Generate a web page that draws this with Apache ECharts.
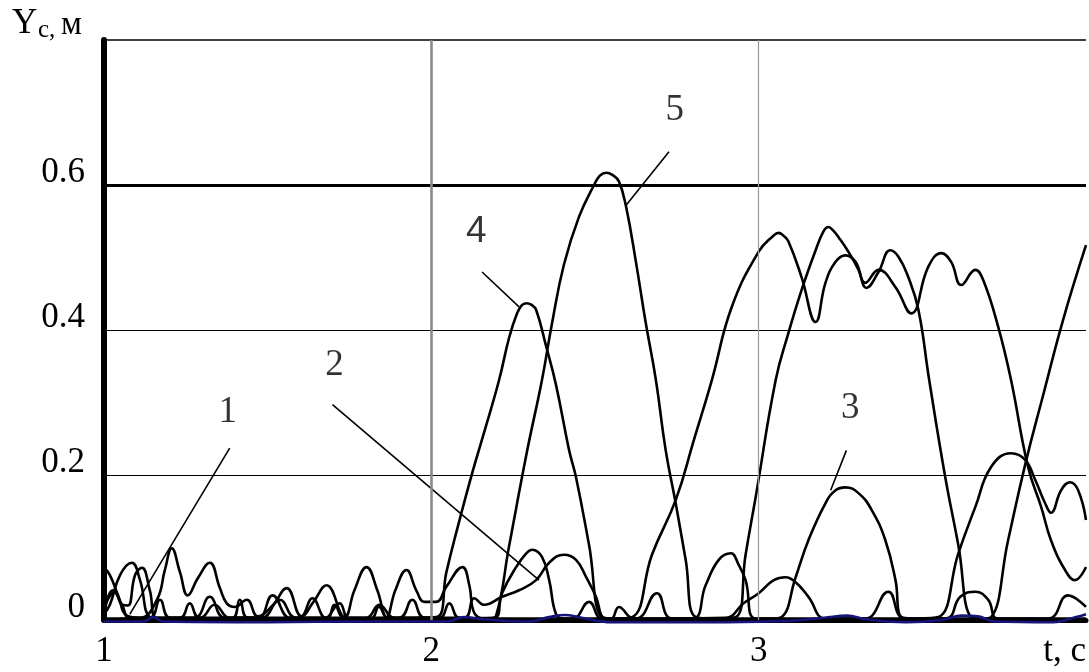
<!DOCTYPE html>
<html><head><meta charset="utf-8">
<script src="https://cdn.jsdelivr.net/npm/echarts@6/dist/echarts.min.js"></script>
<style>html,body{margin:0;padding:0;background:#fff}#c{width:1089px;height:672px}</style>
</head><body><div id="c"></div>
<script>
// ---- data: [t (s), Yc (m)] ----
const s1 = [[1.000,0.072],[1.018,0.062],[1.043,0.034],[1.070,0.006],[1.110,0.003],[1.162,0.028],[1.186,0.069],[1.207,0.099],[1.232,0.066],[1.256,0.034],[1.287,0.058],[1.323,0.079],[1.354,0.044],[1.375,0.023],[1.399,0.018],[1.436,0.028],[1.470,0.005],[1.515,0.020],[1.558,0.044],[1.604,0.005],[1.640,0.025],[1.680,0.048],[1.735,0.004],[1.765,0.041],[1.802,0.073],[1.835,0.041],[1.863,0.004],[1.890,0.041],[1.924,0.069],[1.954,0.041],[1.979,0.025],[2.015,0.025],[2.046,0.046],[2.095,0.073],[2.116,0.048],[2.131,0.010],[2.162,0.002],[2.430,0.002],[2.482,0.025],[2.521,0.002],[2.625,0.002],[2.689,0.037],[2.735,0.002],[2.899,0.003],[2.954,0.023],[3.000,0.037],[3.046,0.055],[3.082,0.059],[3.113,0.052],[3.152,0.032],[3.204,0.002],[3.326,0.002],[3.396,0.039],[3.448,0.002],[3.884,0.002],[3.945,0.034],[4.000,0.018]];
const s2 = [[1.000,0.008],[1.018,0.021],[1.049,0.062],[1.085,0.079],[1.110,0.055],[1.140,0.004],[1.171,0.002],[1.277,0.003],[1.323,0.032],[1.369,0.003],[1.470,0.003],[1.515,0.034],[1.567,0.003],[1.598,0.003],[1.637,0.030],[1.677,0.003],[1.720,0.023],[1.750,0.002],[1.902,0.003],[1.942,0.028],[1.979,0.003],[2.101,0.003],[2.131,0.030],[2.162,0.021],[2.216,0.032],[2.268,0.041],[2.320,0.055],[2.360,0.079],[2.405,0.090],[2.442,0.083],[2.473,0.059],[2.503,0.032],[2.527,0.003],[2.550,0.002],[2.573,0.018],[2.619,0.002],[2.796,0.002],[2.838,0.048],[2.878,0.083],[2.915,0.092],[2.939,0.076],[2.960,0.055],[2.991,0.002],[3.570,0.002],[3.616,0.032],[3.662,0.039],[3.701,0.028],[3.732,0.002],[4.000,0.002]];
const s3 = [[1.000,0.018],[1.034,0.039],[1.055,0.021],[1.073,0.020],[1.095,0.062],[1.116,0.072],[1.140,0.041],[1.162,0.003],[1.232,0.003],[1.390,0.002],[1.415,0.028],[1.440,0.003],[1.580,0.002],[1.815,0.002],[1.840,0.018],[1.870,0.002],[2.192,0.003],[2.216,0.037],[2.259,0.073],[2.290,0.092],[2.308,0.097],[2.338,0.087],[2.360,0.055],[2.381,0.008],[2.405,0.002],[3.040,0.002],[3.070,0.004],[3.113,0.059],[3.152,0.110],[3.204,0.161],[3.235,0.179],[3.265,0.183],[3.305,0.175],[3.345,0.152],[3.387,0.110],[3.418,0.055],[3.436,0.004],[3.488,0.002],[3.549,0.004],[3.610,0.092],[3.662,0.156],[3.710,0.211],[3.771,0.230],[3.814,0.221],[3.845,0.193],[3.875,0.161],[3.893,0.148],[3.924,0.179],[3.951,0.190],[3.976,0.179],[4.000,0.138]];
const s4 = [[1.000,0.002],[1.140,0.003],[1.171,0.028],[1.201,0.003],[1.293,0.003],[1.338,0.021],[1.384,0.003],[1.482,0.003],[1.537,0.028],[1.588,0.003],[1.800,0.003],[1.841,0.021],[1.887,0.003],[2.015,0.004],[2.046,0.066],[2.070,0.110],[2.125,0.203],[2.168,0.269],[2.207,0.331],[2.238,0.390],[2.262,0.423],[2.276,0.434],[2.290,0.437],[2.305,0.435],[2.320,0.428],[2.351,0.377],[2.381,0.324],[2.421,0.234],[2.442,0.197],[2.482,0.103],[2.521,0.004],[2.558,0.002],[2.613,0.004],[2.674,0.090],[2.747,0.166],[2.802,0.248],[2.857,0.331],[2.918,0.432],[3.000,0.508],[3.045,0.530],[3.061,0.534],[3.076,0.530],[3.091,0.522],[3.131,0.473],[3.174,0.411],[3.204,0.465],[3.235,0.494],[3.265,0.503],[3.296,0.494],[3.326,0.465],[3.366,0.483],[3.418,0.459],[3.466,0.423],[3.518,0.487],[3.558,0.506],[3.588,0.494],[3.619,0.462],[3.662,0.483],[3.686,0.469],[3.732,0.404],[3.771,0.331],[3.823,0.211],[3.863,0.156],[3.893,0.110],[3.936,0.069],[3.966,0.055],[4.000,0.073]];
const s5 = [[1.000,0.008],[1.027,0.041],[1.055,0.021],[1.079,0.003],[1.232,0.003],[1.262,0.023],[1.293,0.003],[1.680,0.003],[1.704,0.021],[1.735,0.003],[2.024,0.003],[2.055,0.023],[2.085,0.003],[2.177,0.002],[2.198,0.006],[2.238,0.103],[2.293,0.234],[2.338,0.331],[2.369,0.410],[2.405,0.490],[2.451,0.556],[2.497,0.600],[2.515,0.613],[2.534,0.617],[2.553,0.614],[2.573,0.605],[2.595,0.570],[2.625,0.494],[2.655,0.410],[2.686,0.331],[2.716,0.234],[2.747,0.160],[2.777,0.083],[2.808,0.004],[2.863,0.002],[2.930,0.004],[2.960,0.090],[2.991,0.170],[3.052,0.331],[3.091,0.396],[3.131,0.455],[3.174,0.510],[3.198,0.536],[3.213,0.542],[3.228,0.537],[3.244,0.528],[3.274,0.508],[3.305,0.483],[3.329,0.458],[3.366,0.480],[3.402,0.510],[3.427,0.501],[3.457,0.473],[3.488,0.428],[3.521,0.331],[3.570,0.197],[3.610,0.103],[3.649,0.004],[3.680,0.002],[3.710,0.004],[3.762,0.110],[3.814,0.214],[3.869,0.310],[3.930,0.414],[4.000,0.517]];
const sBlue = [[1.0,-0.002],[1.12,-0.002],[1.15,0.004],[1.18,-0.002],[1.5,-0.003],[1.8,-0.002],[2.05,-0.002],[2.1,0.004],[2.16,0.001],[2.3,-0.002],[2.36,0.004],[2.41,0.007],[2.47,0.002],[2.55,-0.003],[2.9,-0.003],[3.1,-0.001],[3.2,0.003],[3.27,0.006],[3.33,0.001],[3.45,-0.003],[3.56,0.0],[3.62,0.006],[3.67,0.005],[3.72,-0.002],[3.9,-0.003],[3.97,0.004],[4.0,0.008]];

// curve labels and leader lines
const curveNames = ['1','2','3','4','5'];
const labelPos = [[1.378,0.286],[1.704,0.352],[3.280,0.292],[2.137,0.535],[2.744,0.703]];
const leaders = [[[1.384,0.237],[1.079,0.008]],[[1.698,0.297],[2.329,0.055]],[[3.268,0.234],[3.220,0.179]],[[2.155,0.480],[2.268,0.432]],[[2.726,0.646],[2.595,0.572]]];

// ticks
const xTickLabels = {1:'1',2:'2',3:'3',4:'t, c'};
const yTickLabels = {'0':'0','0.2':'0.2','0.4':'0.4','0.6':'0.6','0.8':''};
const hGrid = [0.2,0.4,0.6,0.8];
const vGrid = [2,3];

const serif = 'Liberation Serif';
const chart = echarts.init(document.getElementById('c'), null, {renderer:'canvas'});

const curveSeries = [s1,s2,s3,s4,s5].map((d,i)=>({
  type:'line', name:curveNames[i], data:d, smooth:0.45, showSymbol:false, symbol:'none',
  lineStyle:{color:'#000', width:2.6}, z:3, silent:true
}));

const leaderSeries = leaders.map(d=>({
  type:'line', data:d, showSymbol:false, symbol:'none', smooth:false,
  lineStyle:{color:'#000', width:1.6}, z:4, silent:true
}));

const gridSeries = {
  type:'line', data:[], silent:true, z:1,
  markLine:{
    silent:true, symbol:['none','none'], label:{show:false}, animation:false,
    data:[
      {yAxis:hGrid[0], lineStyle:{color:'#000', width:1, type:'solid'}},
      {yAxis:hGrid[1], lineStyle:{color:'#000', width:1.2, type:'solid'}},
      {yAxis:hGrid[2], lineStyle:{color:'#000', width:3, type:'solid'}},
      {yAxis:hGrid[3], lineStyle:{color:'#000', width:1.6, type:'solid'}},
      {xAxis:vGrid[0], lineStyle:{color:'#8a8a8a', width:2.6, type:'solid'}},
      {xAxis:vGrid[1], lineStyle:{color:'#9a9a9a', width:1.2, type:'solid'}}
    ]
  }
};

const blueSeries = {
  type:'line', data:sBlue, smooth:0.4, showSymbol:false, symbol:'none', clip:false,
  lineStyle:{color:'#14147a', width:2.6}, z:5, silent:true
};

const labelSeries = {
  type:'scatter', symbolSize:0, z:6, silent:true,
  data: labelPos.map((p,i)=>({value:p, name:curveNames[i],
    label:{color:'#000', fontSize:37, fontFamily: curveNames[i]==='4' ? 'Liberation Sans' : serif}})),
  label:{show:true, position:'inside', formatter:p=>p.name, color:'#000', fontSize:37, fontFamily:serif}
};

chart.setOption({
  animation:false,
  backgroundColor:'#fff',
  grid:{left:104, right:0, top:40, bottom:52, containLabel:false},
  xAxis:{
    type:'value', min:1, max:4, interval:1,
    axisLine:{show:true, onZero:false, lineStyle:{color:'#000', width:5}},
    axisTick:{show:false}, splitLine:{show:false},
    axisLabel:{color:'#000', fontFamily:serif, fontSize:35, lineHeight:35, margin:14,
      alignMaxLabel:'right', formatter:v=>xTickLabels[v] ?? ''}
  },
  yAxis:{
    type:'value', min:0, max:0.8, interval:0.2,
    axisLine:{show:true, onZero:false, lineStyle:{color:'#000', width:6}},
    axisTick:{show:false}, splitLine:{show:false},
    axisLabel:{color:'#000', fontFamily:serif, fontSize:35, lineHeight:24, margin:19, verticalAlign:'bottom',
      formatter:v=>yTickLabels[String(Math.round(v*10)/10)] ?? ''}
  },
  graphic:[
    {type:'text', left:12, top:6, style:{text:'Y', font:'35px "Liberation Serif"', fill:'#000'}},
    {type:'text', left:38, top:18, style:{text:'c,', font:'25px "Liberation Serif"', fill:'#000'}},
    {type:'text', left:61, top:9, style:{text:'м', font:'33px "Liberation Serif"', fill:'#000'}}
  ],
  series:[gridSeries, ...curveSeries, ...leaderSeries, blueSeries, labelSeries]
});
</script></body></html>
